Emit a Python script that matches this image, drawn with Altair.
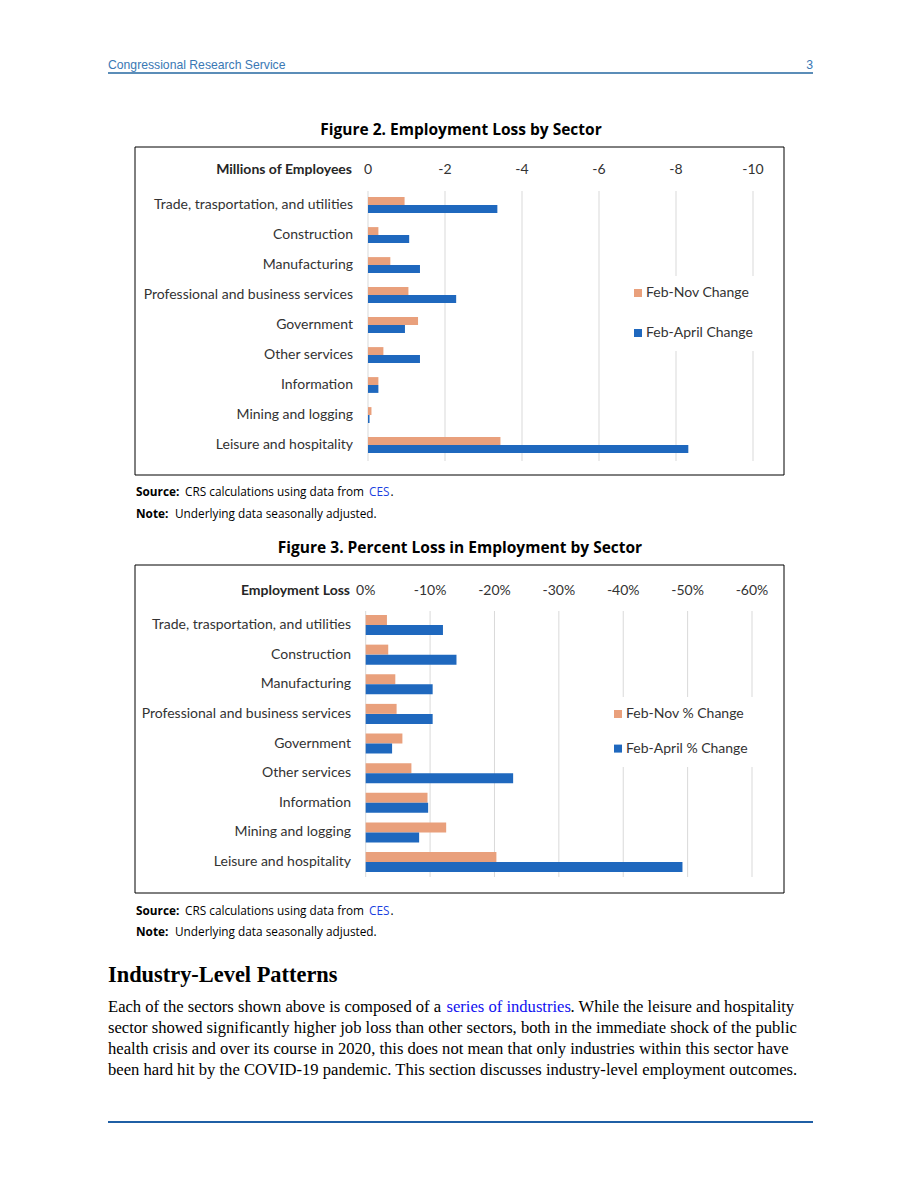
import altair as alt
import pandas as pd

# ---------------- data ----------------
CATEGORIES = [
    "Trade, trasportation, and utilities",
    "Construction",
    "Manufacturing",
    "Professional and business services",
    "Government",
    "Other services",
    "Information",
    "Mining and logging",
    "Leisure and hospitality",
]
SERIES_ABS = ["Feb-Nov Change", "Feb-April Change"]
SERIES_PCT = ["Feb-Nov % Change", "Feb-April % Change"]

NOV_MILLIONS = [-0.95, -0.27, -0.58, -1.05, -1.30, -0.40, -0.27, -0.09, -3.44]
APR_MILLIONS = [-3.36, -1.07, -1.35, -2.29, -0.96, -1.35, -0.27, -0.04, -8.32]
NOV_PCT = [-3.3, -3.5, -4.6, -4.8, -5.7, -7.1, -9.6, -12.5, -20.3]
APR_PCT = [-12.0, -14.1, -10.4, -10.4, -4.1, -22.9, -9.7, -8.3, -49.2]

TICKS_ABS = [0, -2, -4, -6, -8, -10]
TICK_LABELS_ABS = ["0", "-2", "-4", "-6", "-8", "-10"]
TICKS_PCT = [0, -10, -20, -30, -40, -50, -60]
TICK_LABELS_PCT = ["0%", "-10%", "-20%", "-30%", "-40%", "-50%", "-60%"]

BODY_LINES = [
    "sector showed significantly higher job loss than other sectors, both in the immediate shock of the public",
    "health crisis and over its course in 2020, this does not mean that only industries within this sector have",
    "been hard hit by the COVID-19 pandemic. This section discusses industry-level employment outcomes.",
]

# ---------------- style ----------------
ORANGE = "#E9A07C"
BLUE = "#1F68BE"
GRID = "#D9D9D9"
LABEL_COLOR = "#333333"
XL_FONT = "Lato"
GS_FONT = "Open Sans"
SERIF = "Liberation Serif"
PAGE_W, PAGE_H = 904, 1175
DUMMY = alt.Data(values=[{"a": 1}])


def P(v):
    # page pixel -> chart pixel (8px body margin)
    return v - 8


def txt(x, y, s, size, font, color="black", weight="normal", align="left", baseline="middle"):
    return alt.Chart(DUMMY).mark_text(
        fontSize=size, font=font, color=color, fontWeight=weight, align=align, baseline=baseline
    ).encode(x=alt.value(P(x)), y=alt.value(P(y)), text=alt.value(s))


def hrule(x0, x1, y, color, width):
    return alt.Chart(DUMMY).mark_rule(color=color, strokeWidth=width).encode(
        x=alt.value(P(x0)), x2=alt.value(P(x1)), y=alt.value(P(y))
    )


def box(x0, x1, y0, y1):
    return alt.Chart(DUMMY).mark_rect(fillOpacity=0, stroke="black", strokeWidth=1).encode(
        x=alt.value(P(x0)), x2=alt.value(P(x1)), y=alt.value(P(y0)), y2=alt.value(P(y1))
    )


def panel(series, v1, v2, ticks, tick_labels, x0, x1, yc0, yc1, band_h,
          grid_y0, grid_y1, tick_y, label_right, title_text,
          legend_x, legend_y, legend_rowpad):
    n = len(CATEGORIES)
    step = (yc1 - yc0) / (n - 1)
    pin = 1 - band_h / step
    yscale = alt.Scale(
        domain=CATEGORIES,
        range=[P(yc0) - step / 2, P(yc1) + step / 2],
        paddingInner=pin,
        paddingOuter=pin / 2,
    )
    xscale = alt.Scale(domain=[0, ticks[-1]], range=[P(x0), P(x1)], nice=False, zero=False)

    rows = []
    for c, a, b in zip(CATEGORIES, v1, v2):
        rows.append({"category": c, "series": series[0], "value": a})
        rows.append({"category": c, "series": series[1], "value": b})
    bars_df = pd.DataFrame(rows)
    ticks_df = pd.DataFrame({"tick": ticks, "label": tick_labels})
    cats_df = pd.DataFrame({"category": CATEGORIES})

    grid = alt.Chart(ticks_df).mark_rule(color=GRID, strokeWidth=1).encode(
        x=alt.X("tick:Q", scale=xscale, axis=None),
        y=alt.value(P(grid_y0)),
        y2=alt.value(P(grid_y1)),
    )
    bars = alt.Chart(bars_df).mark_bar().encode(
        x=alt.X("value:Q", scale=xscale, axis=None),
        y=alt.Y("category:N", scale=yscale, axis=None, sort=CATEGORIES),
        yOffset=alt.YOffset("series:N", sort=series,
                            scale=alt.Scale(domain=series, paddingInner=0, paddingOuter=0)),
        color=alt.Color(
            "series:N",
            sort=series,
            scale=alt.Scale(domain=series, range=[ORANGE, BLUE]),
            legend=alt.Legend(
                orient="none", legendX=P(legend_x), legendY=P(legend_y), title=None,
                symbolType="square", symbolSize=64, symbolStrokeWidth=0,
                labelFont=XL_FONT, labelFontSize=14, labelColor=LABEL_COLOR,
                labelOffset=1, rowPadding=legend_rowpad, fillColor="white",
                padding=10, strokeColor="white",
            ),
        ),
    )
    tick_text = alt.Chart(ticks_df).mark_text(
        font=XL_FONT, fontSize=14, color=LABEL_COLOR, align="center", baseline="middle"
    ).encode(
        x=alt.X("tick:Q", scale=xscale, axis=None),
        y=alt.value(P(tick_y)),
        text="label:N",
    )
    cat_text = alt.Chart(cats_df).mark_text(
        font=XL_FONT, fontSize=14, color=LABEL_COLOR, align="right", baseline="middle"
    ).encode(
        y=alt.Y("category:N", scale=yscale, axis=None, sort=CATEGORIES),
        x=alt.value(P(label_right)),
        text="category:N",
    )
    title = txt(label_right - 1, tick_y, title_text, 14, XL_FONT, color="#262626",
                weight="bold", align="right")
    return alt.layer(grid, bars, tick_text, cat_text, title)


panel1 = panel(SERIES_ABS, NOV_MILLIONS, APR_MILLIONS, TICKS_ABS, TICK_LABELS_ABS,
               368, 753, 205, 445, 15.8, 191, 461, 170, 353, "Millions of Employees",
               621, 276, 26)
panel2 = panel(SERIES_PCT, NOV_PCT, APR_PCT, TICKS_PCT, TICK_LABELS_PCT,
               365.7, 752, 625, 862, 20, 611, 877, 590.5, 351, "Employment Loss",
               601, 697, 20.6)

SRC = 11.8
decor = [
    txt(108, 65, "Congressional Research Service", 12.2, "Liberation Sans", color="#3A78B4"),
    txt(813, 65, "3", 12.2, "Liberation Sans", color="#3A78B4", align="right"),
    hrule(108, 813, 73, "#5B8DB8", 2),
    txt(461, 130, "Figure 2. Employment Loss by Sector", 15.5, GS_FONT, weight="bold", align="center"),
    box(135, 784, 147, 475),
    txt(136, 492, "Source:", SRC, GS_FONT, weight="bold"),
    txt(185, 492, "CRS calculations using data from", SRC, GS_FONT),
    txt(369, 492, "CES", SRC, GS_FONT, color="#1A3FE0"),
    txt(390.5, 492, ".", SRC, GS_FONT),
    txt(136, 514, "Note:", SRC, GS_FONT, weight="bold"),
    txt(175, 514, "Underlying data seasonally adjusted.", SRC, GS_FONT),
    txt(460, 548, "Figure 3. Percent Loss in Employment by Sector", 15.5, GS_FONT, weight="bold", align="center"),
    box(135, 784, 565, 893),
    txt(136, 911, "Source:", SRC, GS_FONT, weight="bold"),
    txt(185, 911, "CRS calculations using data from", SRC, GS_FONT),
    txt(369, 911, "CES", SRC, GS_FONT, color="#1A3FE0"),
    txt(390.5, 911, ".", SRC, GS_FONT),
    txt(136, 932, "Note:", SRC, GS_FONT, weight="bold"),
    txt(175, 932, "Underlying data seasonally adjusted.", SRC, GS_FONT),
    txt(108, 975, "Industry-Level Patterns", 22.4, SERIF, weight="bold"),
    txt(108, 1007, "Each of the sectors shown above is composed of a", 16.6, SERIF),
    txt(446.5, 1007, "series of industries", 16.6, SERIF, color="#1010F0"),
    txt(570.5, 1007, ". While the leisure and hospitality", 16.6, SERIF),
    hrule(108, 813, 1122, "#1F5FA5", 2),
]
for i, line in enumerate(BODY_LINES):
    decor.append(txt(108, 1028 + 21 * i, line, 16.6, SERIF))

chart = alt.layer(*decor, panel1, panel2).resolve_scale(
    x="independent", y="independent", color="independent", yOffset="independent"
).properties(
    width=PAGE_W, height=PAGE_H, autosize=alt.AutoSizeParams(type="none"), padding=0,
    background="white",
).configure_view(stroke=None)

chart.save("out.html", embed_options={"renderer": "svg", "actions": False})
